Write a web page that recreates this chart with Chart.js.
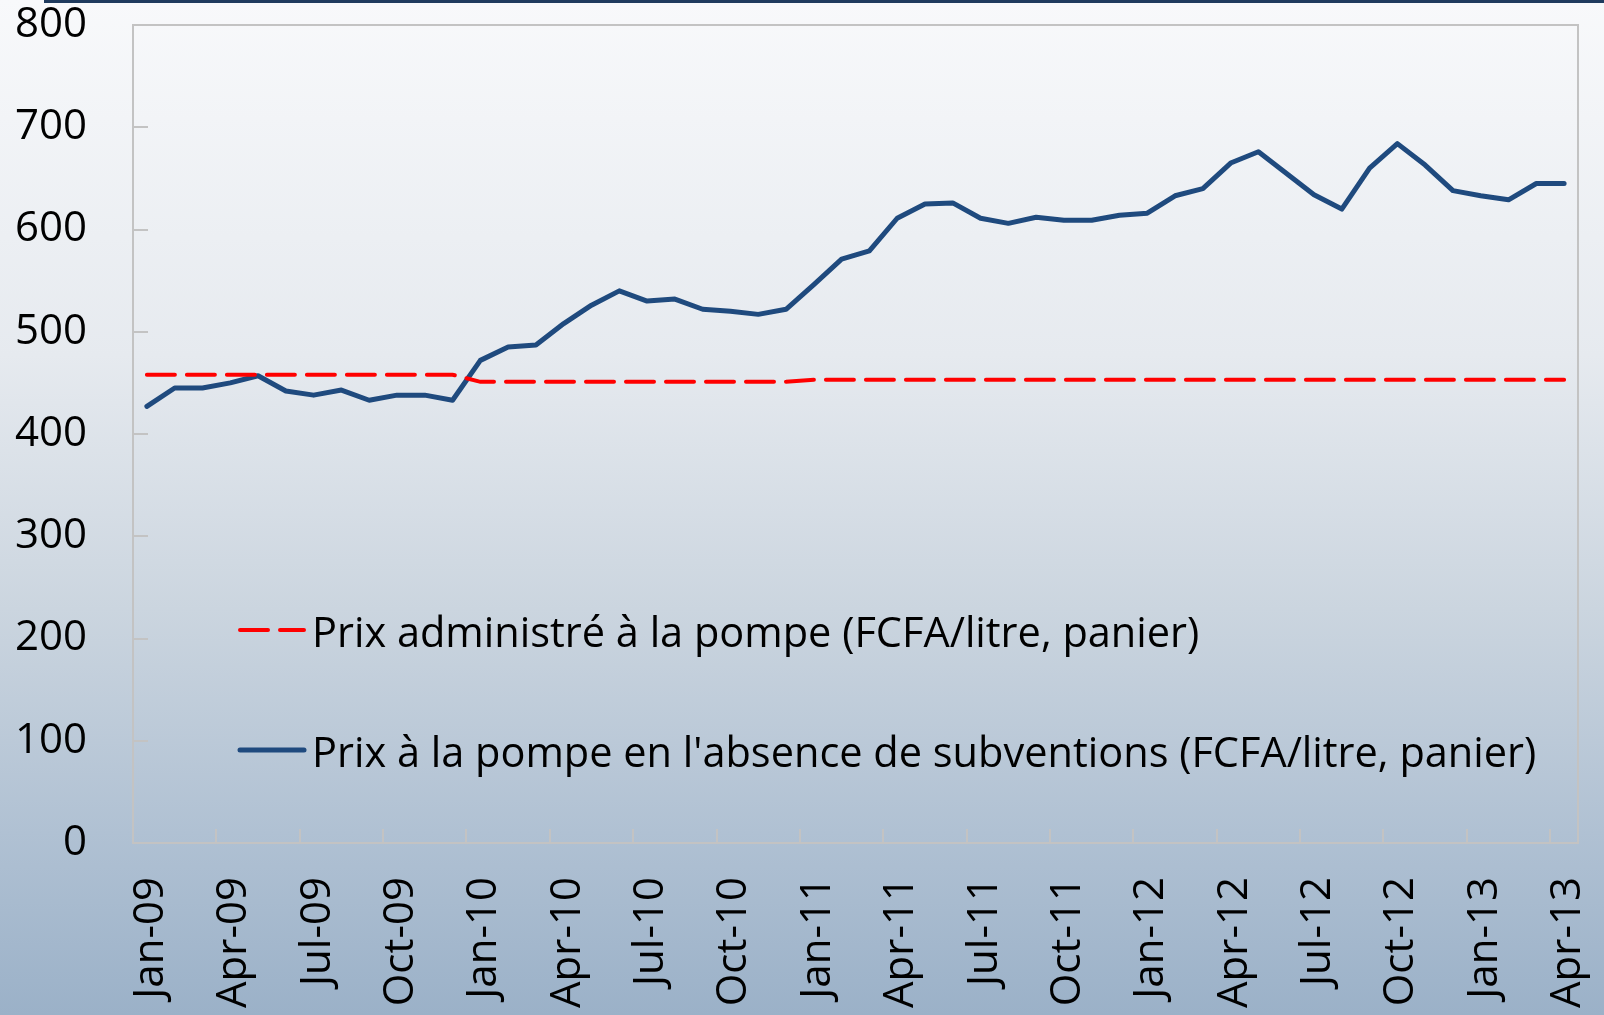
<!DOCTYPE html>
<html>
<head>
<meta charset="utf-8">
<script src="https://cdn.jsdelivr.net/npm/chart.js@4.4.1/dist/chart.umd.min.js"></script>
<style>
  html, body { margin: 0; padding: 0; overflow: hidden; }
  canvas { display: block; }
</style>
</head>
<body>
<canvas id="myChart" width="1604" height="1015"></canvas>
<script>
const months = [
    "Jan-09", "Feb-09", "Mar-09", "Apr-09", "May-09", "Jun-09", "Jul-09", "Aug-09", "Sep-09", "Oct-09", "Nov-09", "Dec-09",
    "Jan-10", "Feb-10", "Mar-10", "Apr-10", "May-10", "Jun-10", "Jul-10", "Aug-10", "Sep-10", "Oct-10", "Nov-10", "Dec-10",
    "Jan-11", "Feb-11", "Mar-11", "Apr-11", "May-11", "Jun-11", "Jul-11", "Aug-11", "Sep-11", "Oct-11", "Nov-11", "Dec-11",
    "Jan-12", "Feb-12", "Mar-12", "Apr-12", "May-12", "Jun-12", "Jul-12", "Aug-12", "Sep-12", "Oct-12", "Nov-12", "Dec-12",
    "Jan-13", "Feb-13", "Mar-13", "Apr-13",
];

// Prix administré à la pompe (ligne rouge pointillée)
const prixAdministre = [
    458, 458, 458, 458, 458, 458, 458, 458, 458, 458, 458, 458,
    451, 451, 451, 451, 451, 451, 451, 451, 451, 451, 451, 451,
    453, 453, 453, 453, 453, 453, 453, 453, 453, 453, 453, 453,
    453, 453, 453, 453, 453, 453, 453, 453, 453, 453, 453, 453,
    453, 453, 453, 453,
];

// Prix sans subventions (ligne bleue)
const prixSansSubventions = [
    427, 445, 445, 450, 457, 442, 438, 443, 433, 438, 438, 433,
    472, 485, 487, 508, 526, 540, 530, 532, 522, 520, 517, 522,
    546, 571, 579, 611, 625, 626, 611, 606, 612, 609, 609, 614,
    616, 633, 640, 665, 676, 655, 634, 620, 660, 684, 663, 638,
    633, 629, 645, 645,
];

const seriesNames = [
    "Prix administré à la pompe (FCFA/litre, panier)",
    "Prix à la pompe en l'absence de subventions (FCFA/litre, panier)",
];

const yTicks = [0, 100, 200, 300, 400, 500, 600, 700, 800];
const tickEvery = 3;
const fontFamily = "'Open Sans', 'Noto Sans', sans-serif";

// fond dégradé + liseré bleu en haut
const background = {
    id: "background",
    beforeDraw(chart) {
        const { ctx, width, height } = chart;
        ctx.save();
        const g = ctx.createLinearGradient(0, 0, 0, height);
        g.addColorStop(0, "#f8f9fb");
        g.addColorStop(0.35, "#e6eaef");
        g.addColorStop(0.6, "#cbd5df");
        g.addColorStop(0.82, "#b0c1d3");
        g.addColorStop(1, "#9bb1c8");
        ctx.fillStyle = g;
        ctx.fillRect(0, 0, width, height);
        ctx.fillStyle = "#1f3b5e";
        ctx.fillRect(44, 0, width - 44, 3);
        ctx.restore();
    },
};

// cadre gris + petites graduations vers l'intérieur (style Excel)
const frame = {
    id: "frame",
    beforeDatasetsDraw(chart) {
        const { ctx, chartArea: a, scales } = chart;
        ctx.save();
        ctx.strokeStyle = "#c3c3c3";
        ctx.lineWidth = 2;
        ctx.strokeRect(a.left, a.top, a.right - a.left, a.bottom - a.top);
        ctx.beginPath();
        yTicks.forEach((v) => {
            const y = Math.round(scales.y.getPixelForValue(v));
            ctx.moveTo(a.left, y);
            ctx.lineTo(a.left + 15, y);
        });
        const half = (scales.x.getPixelForValue(1) - scales.x.getPixelForValue(0)) / 2;
        for (let i = tickEvery; i < months.length; i += tickEvery) {
            const x = Math.round(scales.x.getPixelForValue(i) - half);
            ctx.moveTo(x, a.bottom);
            ctx.lineTo(x, a.bottom - 14);
        }
        ctx.stroke();
        ctx.restore();
    },
};

// légende dans la zone du graphique
const legendBox = {
    id: "legendBox",
    afterDraw(chart) {
        const { ctx } = chart;
        const rows = [
            { y: 647, color: "#ff0000", width: 4, dash: [28, 12] },
            { y: 767, color: "#1f4a7e", width: 5, dash: [] },
        ];
        ctx.save();
        ctx.font = "41.5px " + fontFamily;
        ctx.textBaseline = "alphabetic";
        ctx.fillStyle = "#000";
        rows.forEach((r, i) => {
            ctx.beginPath();
            ctx.strokeStyle = r.color;
            ctx.lineWidth = r.width;
            ctx.lineCap = "round";
            ctx.setLineDash(r.dash);
            ctx.moveTo(240, r.y - 17);
            ctx.lineTo(304, r.y - 17);
            ctx.stroke();
            ctx.setLineDash([]);
            ctx.fillText(seriesNames[i], 312, r.y);
        });
        ctx.restore();
    },
};

function noPadding(scale) {
    scale.paddingTop = 0;
    scale.paddingBottom = 0;
    scale.paddingLeft = 0;
    scale.paddingRight = 0;
}

new Chart(document.getElementById("myChart"), {
    type: "line",
    data: {
        labels: months,
        datasets: [
            {
                label: seriesNames[0],
                data: prixAdministre,
                borderColor: "#ff0000",
                borderWidth: 4,
                borderDash: [28, 12],
                borderCapStyle: "round",
                pointRadius: 0,
                tension: 0,
            },
            {
                label: seriesNames[1],
                data: prixSansSubventions,
                borderColor: "#1f4a7e",
                borderWidth: 5,
                borderCapStyle: "round",
                borderJoinStyle: "round",
                pointRadius: 0,
                tension: 0,
            },
        ],
    },
    options: {
        responsive: false,
        animation: false,
        layout: { padding: { top: 25, right: 26, left: 0, bottom: 0 } },
        plugins: {
            legend: { display: false },
            tooltip: { enabled: false },
        },
        scales: {
            x: {
                type: "category",
                offset: true,
                grid: { display: false, drawTicks: false },
                border: { display: false },
                ticks: {
                    autoSkip: false,
                    minRotation: 90,
                    maxRotation: 90,
                    padding: 34,
                    labelOffset: 4,
                    color: "#000",
                    font: { family: fontFamily, size: 42 },
                    callback: function (value, index) {
                        return index % tickEvery === 0 ? this.getLabelForValue(value) : "";
                    },
                },
                afterFit(scale) {
                    scale.height = 172;
                    noPadding(scale);
                },
            },
            y: {
                min: 0,
                max: 800,
                grid: { display: false, drawTicks: false },
                border: { display: false },
                ticks: {
                    stepSize: 100,
                    padding: 46,
                    color: "#000",
                    font: { family: fontFamily, size: 42 },
                },
                afterFit(scale) {
                    scale.width = 133;
                    noPadding(scale);
                },
            },
        },
    },
    plugins: [background, frame, legendBox],
});
</script>
</body>
</html>
